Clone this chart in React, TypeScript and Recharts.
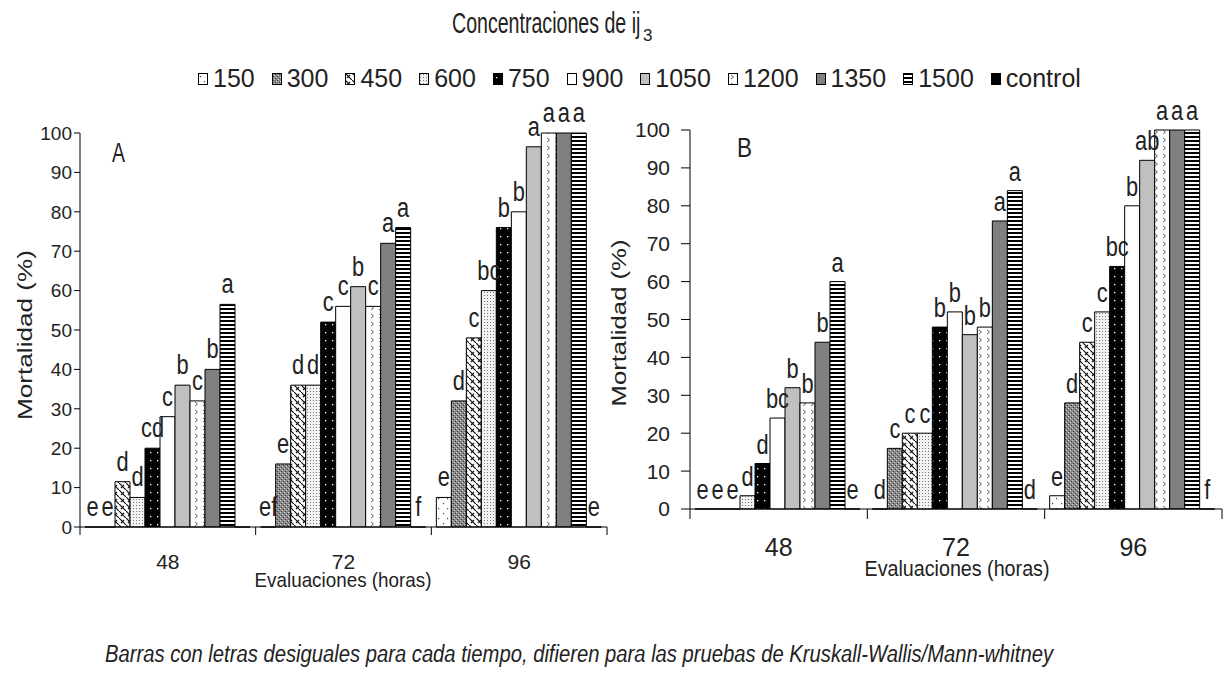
import { BarChart, Bar, XAxis, YAxis, LabelList } from "recharts";

// Evaluation times (hours) and ij3 concentrations
const times = ["48", "72", "96"];
const series = ["150", "300", "450", "600", "750", "900", "1050", "1200", "1350", "1500", "control"];

// Panel A: mortality (%) per time, one value per concentration
const mortA48 = [0, 0, 11.5, 7.5, 20, 28, 36, 32, 40, 56.5, 0];
const mortA72 = [0, 16, 36, 36, 52, 56, 61, 56, 72, 76, 0];
const mortA96 = [7.5, 32, 48, 60, 76, 80, 96.5, 100, 100, 100, 0];
const lettA48 = ["e", "e", "d", "d", "cd", "c", "b", "c", "b", "a", ""];
const lettA72 = ["ef", "e", "d", "d", "c", "c", "b", "c", "a", "a", "f"];
const lettA96 = ["e", "d", "c", "bc", "b", "b", "a", "a", "a", "a", "e"];

// Panel B
const mortB48 = [0, 0, 0, 3.5, 12, 24, 32, 28, 44, 60, 0];
const mortB72 = [0, 16, 20, 20, 48, 52, 46, 48, 76, 84, 0];
const mortB96 = [3.5, 28, 44, 52, 64, 80, 92, 100, 100, 100, 0];
const lettB48 = ["e", "e", "e", "d", "d", "bc", "b", "b", "b", "a", "e"];
const lettB72 = ["d", "c", "c", "c", "b", "b", "b", "b", "a", "a", "d"];
const lettB96 = ["e", "d", "c", "c", "bc", "b", "ab", "a", "a", "a", "f"];

const yTicks = [0, 10, 20, 30, 40, 50, 60, 70, 80, 90, 100];

const INK = "#222";
const FONT = "'Liberation Sans', Arial, sans-serif";

const solid: Record<string, string> = {
  "900": "#ffffff",
  "1050": "#c0c0c0",
  "1350": "#808080",
  control: "#000000",
};

const fillFor = (id: string, s: string) => solid[s] ?? `url(#${id}-${s})`;

function Patterns({ id }: { id: string }) {
  return (
    <defs>
      <pattern id={`${id}-150`} width={9} height={10} patternUnits="userSpaceOnUse">
        <rect width={9} height={10} fill="#fff" />
        <rect x={2} y={3} width={1.2} height={1.2} fill="#444" />
        <rect x={6} y={8} width={1.2} height={1.2} fill="#444" />
      </pattern>
      <pattern id={`${id}-300`} width={4} height={4} patternUnits="userSpaceOnUse">
        <rect width={4} height={4} fill="#8a8a8a" />
        <rect x={0} y={0} width={1} height={1} fill="#d0d0d0" />
        <rect x={2} y={2} width={1} height={1} fill="#d0d0d0" />
        <rect x={1} y={3} width={1} height={1} fill="#3a3a3a" />
        <rect x={3} y={1} width={1} height={1} fill="#3a3a3a" />
      </pattern>
      <pattern id={`${id}-450`} width={7} height={7} patternUnits="userSpaceOnUse">
        <rect width={7} height={7} fill="#fff" />
        <path d="M-1,-1 L8,8 M2,5 L5,2" stroke="#111" strokeWidth={1.2} fill="none" />
      </pattern>
      <pattern id={`${id}-600`} width={3} height={3} patternUnits="userSpaceOnUse">
        <rect width={3} height={3} fill="#f2f2f2" />
        <rect x={1} y={1} width={1} height={1} fill="#777" />
      </pattern>
      <pattern id={`${id}-750`} width={7} height={8} patternUnits="userSpaceOnUse">
        <rect width={7} height={8} fill="#000" />
        <rect x={3} y={4} width={1.3} height={1.3} fill="#fff" />
      </pattern>
      <pattern id={`${id}-1200`} width={8} height={8} patternUnits="userSpaceOnUse">
        <rect width={8} height={8} fill="#fff" />
        <path d="M3,2 L5.5,4 L3,6" stroke="#555" strokeWidth={0.9} fill="none" />
      </pattern>
      <pattern id={`${id}-1500`} width={4} height={4} patternUnits="userSpaceOnUse">
        <rect width={4} height={4} fill="#fff" />
        <rect width={4} height={2} fill="#000" />
      </pattern>
    </defs>
  );
}

function buildRows(values: number[][], letters: string[][]) {
  return times.map((t, i) => {
    const row: Record<string, string | number> = { time: t };
    series.forEach((s, j) => {
      row[`v${s}`] = values[i][j];
      row[`l${s}`] = letters[i][j];
    });
    return row;
  });
}

const dataA = buildRows([mortA48, mortA72, mortA96], [lettA48, lettA72, lettA96]);
const dataB = buildRows([mortB48, mortB72, mortB96], [lettB48, lettB72, lettB96]);

interface PanelCfg {
  id: string;
  left: number;
  width: number;
  height: number;
  margin: { top: number; right: number; bottom: number; left: number };
  xAxisHeight: number;
  yTickSize: number;
  yTickMargin: number;
  yFont: number;
  xFont: number;
  xLabelY: number;
  tickLen: number;
  letterGap: number;
}

const cfgA: PanelCfg = {
  id: "pa",
  left: 0,
  width: 620,
  height: 600,
  margin: { top: 133, right: 13, bottom: 0, left: 20 },
  xAxisHeight: 73,
  yTickSize: 6,
  yTickMargin: 2,
  yFont: 19,
  xFont: 21,
  xLabelY: 569,
  tickLen: 8,
  letterGap: 11,
};

const cfgB: PanelCfg = {
  id: "pb",
  left: 600,
  width: 628,
  height: 600,
  margin: { top: 130, right: 6, bottom: 0, left: 30 },
  xAxisHeight: 91,
  yTickSize: 9,
  yTickMargin: 11,
  yFont: 21,
  xFont: 25,
  xLabelY: 556,
  tickLen: 10,
  letterGap: 10,
};

function Panel({ cfg, data }: { cfg: PanelCfg; data: Record<string, string | number>[] }) {
  const plotLeft = cfg.margin.left + 60;
  const plotRight = cfg.width - cfg.margin.right;
  const bottom = cfg.height - cfg.xAxisHeight;
  const half = (plotRight - plotLeft) / times.length / 2;

  // eslint-disable-next-line @typescript-eslint/no-explicit-any
  const XTick = (props: any) => {
    const { x, index, payload } = props;
    return (
      <g>
        <text x={x} y={cfg.xLabelY} textAnchor="middle" fontSize={cfg.xFont} fill={INK} fontFamily={FONT}>
          {payload.value}
        </text>
        <line x1={x - half} x2={x - half} y1={bottom} y2={bottom + cfg.tickLen} stroke="#000" />
        {index === times.length - 1 && (
          <line x1={x + half} x2={x + half} y1={bottom} y2={bottom + cfg.tickLen} stroke="#000" />
        )}
      </g>
    );
  };

  // tall, condensed significance letters above each bar
  // eslint-disable-next-line @typescript-eslint/no-explicit-any
  const letter = (props: any) => {
    const { x, y, width, value } = props;
    if (!value) return null;
    const cx = Number(x) + Number(width) / 2;
    const cy = Number(y) - cfg.letterGap;
    return (
      <text
        transform={`translate(${cx},${cy}) scale(0.78,1)`}
        textAnchor="middle"
        fontSize={28}
        fill={INK}
        fontFamily={FONT}
      >
        {value}
      </text>
    );
  };

  return (
    <div style={{ position: "absolute", left: cfg.left, top: 0 }}>
      <BarChart
        width={cfg.width}
        height={cfg.height}
        data={data}
        margin={cfg.margin}
        barCategoryGap={5}
        barGap={0}
      >
        <Patterns id={cfg.id} />
        <XAxis
          dataKey="time"
          height={cfg.xAxisHeight}
          axisLine={{ stroke: "#000" }}
          tickLine={false}
          interval={0}
          tick={XTick}
        />
        <YAxis
          type="number"
          domain={[0, 100]}
          ticks={yTicks}
          interval={0}
          width={60}
          axisLine={{ stroke: "#000" }}
          tickLine={{ stroke: "#000" }}
          tickSize={cfg.yTickSize}
          tickMargin={cfg.yTickMargin}
          tick={{ fill: INK, fontSize: cfg.yFont, fontFamily: FONT }}
        />
        {series.map((s) => (
          <Bar
            key={s}
            dataKey={`v${s}`}
            fill={fillFor(cfg.id, s)}
            stroke="#000"
            strokeWidth={1}
            minPointSize={0.01}
            isAnimationActive={false}
          >
            <LabelList dataKey={`l${s}`} content={letter} />
          </Bar>
        ))}
      </BarChart>
    </div>
  );
}

export default function App() {
  return (
    <div
      style={{
        position: "absolute",
        left: 0,
        top: 0,
        width: 1228,
        height: 675,
        background: "#fff",
        overflow: "hidden",
        fontFamily: FONT,
      }}
    >
      <Panel cfg={cfgA} data={dataA} />
      <Panel cfg={cfgB} data={dataB} />

      {/* legend swatch patterns */}
      <svg width={0} height={0} style={{ position: "absolute" }}>
        <Patterns id="lg" />
      </svg>
      <div
        style={{
          position: "absolute",
          left: 198,
          top: 66,
          display: "flex",
          alignItems: "center",
          gap: 17,
          fontSize: 25,
          lineHeight: "25px",
          color: INK,
        }}
      >
        {series.map((s) => (
          <div key={s} style={{ display: "flex", alignItems: "center" }}>
            <svg width={10} height={12} style={{ marginRight: 5 }}>
              <rect x={0.5} y={0.5} width={9} height={11} fill={fillFor("lg", s)} stroke="#000" />
            </svg>
            <span>{s}</span>
          </div>
        ))}
      </div>

      <svg
        width={1228}
        height={675}
        style={{ position: "absolute", left: 0, top: 0, pointerEvents: "none" }}
        fontFamily={FONT}
        fill={INK}
      >
        <text transform="translate(452,33) scale(0.653,1)" fontSize={30}>
          Concentraciones de ij
        </text>
        <text x={643} y={41} fontSize={17}>
          3
        </text>

        <text x={112} y={162} fontSize={28} textLength={13} lengthAdjust="spacingAndGlyphs">
          A
        </text>
        <text x={737} y={157} fontSize={27} textLength={15} lengthAdjust="spacingAndGlyphs">
          B
        </text>

        <text
          transform="translate(32,335) rotate(-90)"
          textAnchor="middle"
          fontSize={21}
          textLength={170}
          lengthAdjust="spacingAndGlyphs"
        >
          Mortalidad (%)
        </text>
        <text
          transform="translate(626,323) rotate(-90)"
          textAnchor="middle"
          fontSize={21}
          textLength={167}
          lengthAdjust="spacingAndGlyphs"
        >
          Mortalidad (%)
        </text>

        <text x={343} y={587} textAnchor="middle" fontSize={21} textLength={177} lengthAdjust="spacingAndGlyphs">
          Evaluaciones (horas)
        </text>
        <text x={957} y={576} textAnchor="middle" fontSize={22} textLength={185} lengthAdjust="spacingAndGlyphs">
          Evaluaciones (horas)
        </text>

        <text
          x={105}
          y={662}
          fontSize={23.5}
          fontStyle="italic"
          textLength={948}
          lengthAdjust="spacingAndGlyphs"
        >
          Barras con letras desiguales para cada tiempo, difieren para las pruebas de Kruskall-Wallis/Mann-whitney
        </text>
      </svg>
    </div>
  );
}
